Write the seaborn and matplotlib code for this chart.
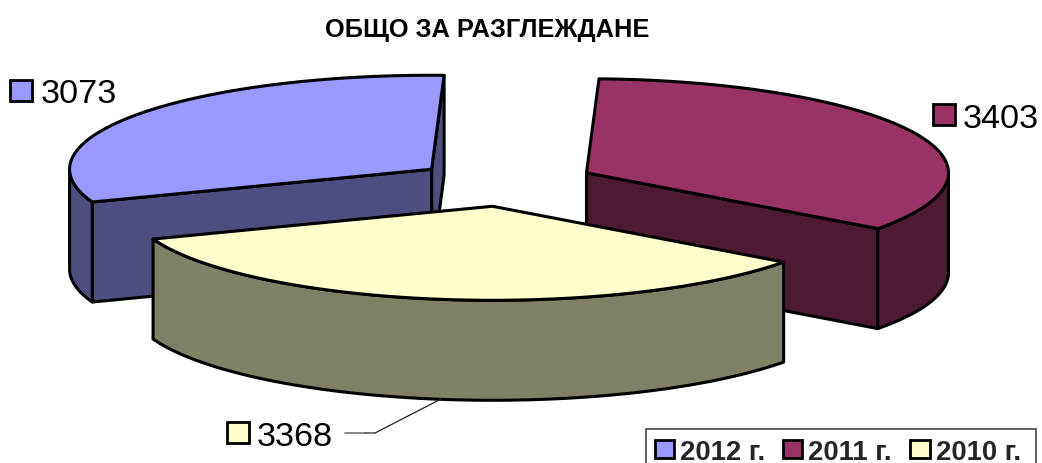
import numpy as np
import matplotlib
matplotlib.use("Agg")
import matplotlib.pyplot as plt
from matplotlib.patches import Rectangle, Patch
import seaborn as sns

years = ["2012 г.", "2011 г.", "2010 г."]
values = [3073, 3403, 3368]
top_colors = ["#9999FF", "#993366", "#FFFFCC"]
side_colors = ["#4D4D80", "#4D1A33", "#808066"]
title = "ОБЩО ЗА РАЗГЛЕЖДАНЕ"

sns.set_theme(style="white")
plt.rcParams["font.family"] = ["Liberation Sans", "DejaVu Sans"]
palette = sns.color_palette(top_colors)
sides = sns.color_palette(side_colors)

fig = plt.figure(figsize=(10.42, 4.64), dpi=100)
ax = fig.add_axes([0, 0, 1, 1])
ax.set_xlim(0, 1042)
ax.set_ylim(464, 0)
ax.axis("off")

# pie geometry (pixels); slices run clockwise from START
CX, CY, A, B, DEPTH, EXPLODE, START = 505, 184, 362, 94, 100, 0.25, 200.4
LW = 2.2


def rim(c, t):
    t = np.radians(t)
    return c[0] + A * np.cos(t), c[1] - B * np.sin(t)


spans = np.array(values) / sum(values) * 360
ends = START - np.concatenate([[0], np.cumsum(spans)[:-1]])
kw = dict(edgecolor="black", linewidth=LW, joinstyle="round")

for end, span, col, side in zip(ends, spans, palette, sides):
    start = end - span
    mid = np.radians(start + span / 2)
    c = (CX + EXPLODE * A * np.cos(mid), CY - EXPLODE * B * np.sin(mid))
    ts = np.linspace(start, end, 240)

    # cut faces that turn towards the viewer
    for t, visible in ((start, np.cos(np.radians(start)) > 0),
                       (end, np.cos(np.radians(end)) < 0)):
        if visible:
            x, y = rim(c, t)
            ax.fill([c[0], x, x, c[0]], [c[1], y, y + DEPTH, c[1] + DEPTH],
                    facecolor=side, **kw)
    # outer wall
    vis = ts[np.sin(np.radians(ts)) <= 0]
    if len(vis):
        x, y = rim(c, vis)
        ax.fill(np.r_[x, x[::-1]], np.r_[y, y[::-1] + DEPTH], facecolor=side, **kw)
    # top
    x, y = rim(c, ts)
    ax.fill(np.r_[c[0], x], np.r_[c[1], y], facecolor=col, **kw)

# data labels with key
label_pos = [(10, 81, 41, 91), (933, 105, 963, 116), (227, 423, 257, 434)]
for (sx, sy, tx, ty), v, col in zip(label_pos, values, palette):
    ax.add_patch(Rectangle((sx, sy), 22, 21, facecolor=col, edgecolor="black", linewidth=2.0))
    ax.text(tx, ty, str(v), fontsize=24.7, color="black", ha="left", va="center_baseline")

# leader line
ax.plot([345, 365], [434, 434], color="#777777", lw=1.2)
ax.plot([365, 375, 441], [434, 434, 400], color="#222222", lw=0.9)

ax.text(487, 28, title, fontsize=18.3, fontweight="bold", ha="center", va="center_baseline", color="black")

# legend box runs past the bottom edge of the picture
ax.add_patch(Rectangle((646, 430), 390, 50, facecolor="white", edgecolor="#555555", linewidth=1.3))
handles = [Patch(facecolor=c, edgecolor="black", linewidth=2.0, label=y) for c, y in zip(palette, years)]
leg = ax.legend(handles=handles, loc="upper left", bbox_to_anchor=(654.5, 440), bbox_transform=ax.transData,
                ncol=3, frameon=False,
                prop={"family": "Liberation Sans", "weight": "bold", "size": 19.8},
                handlelength=0.7, handleheight=0.62, handletextpad=0.22, columnspacing=0.66,
                borderpad=0, borderaxespad=0)

fig.savefig("out.png", dpi=100)
